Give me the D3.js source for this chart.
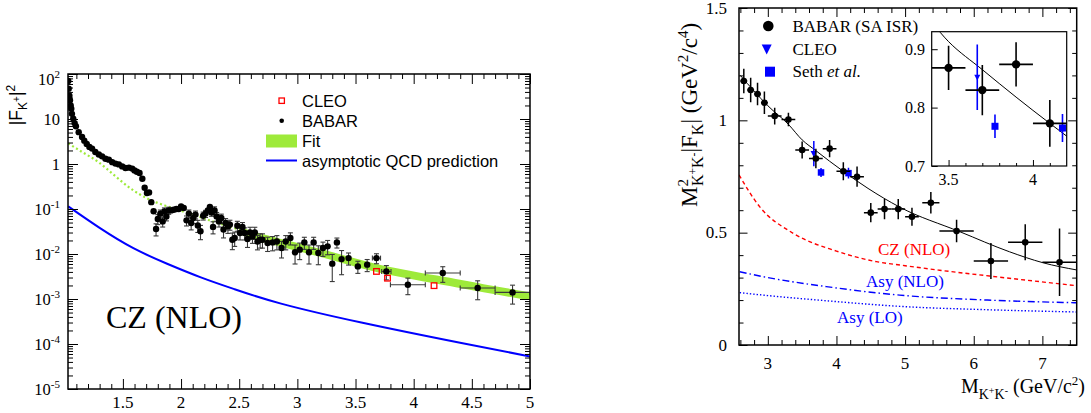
<!DOCTYPE html>
<html>
<head>
<meta charset="utf-8">
<script src="https://cdn.jsdelivr.net/npm/d3@7/dist/d3.min.js"></script>
<style>
html,body{margin:0;padding:0;background:#fff;}
svg{display:block;}
</style>
</head>
<body>
<svg id="chart" width="1091" height="413" xmlns="http://www.w3.org/2000/svg"></svg>
<script>
// ================= DATA : left panel (|F_K+|^2 vs M) =================
const babarLeftM = [
  1.030,1.034,1.040,1.045,1.051,1.056,1.062,1.073,1.085,1.096,
  1.120,1.149,1.168,1.189,1.212,1.235,1.263,1.293,1.321,1.350,
  1.379,1.408,1.436,1.465,1.494,1.522,1.552,1.580,1.600,1.620,
  1.643,1.667,1.687,1.707,1.725,1.744,1.764,1.785,1.800,1.822,
  1.842,1.857,1.874,1.894,1.915,1.937,1.960,1.980,2.000,2.023,
  2.047,2.067,2.087,2.105,2.124,2.144,2.167,2.190,2.210,2.230,
  2.248,2.262,2.275,2.288,2.306,2.326,2.346,2.365,2.383,2.403,
  2.420,2.441,2.461,2.484,2.507,2.528,2.547,2.571,2.593,2.614,
  2.634,2.657,2.680,2.700,2.744,2.787,2.824,2.864,2.900,2.940,
  2.980,3.020,3.060,3.100,3.140,3.180,3.220,3.260,3.300,3.340,
  3.380,3.440,3.520,3.600,3.680,3.765,3.950,4.250,4.550,4.850];
const babarLeftF2 = [
  70,47,33,26,20,17,13,10.2,8.1,6.9,
  5.1,4.0,3.3,2.8,2.4,2.2,1.85,1.63,1.48,1.31,
  1.25,1.10,1.02,0.98,0.885,0.815,0.83,0.79,0.72,0.675,
  0.63,0.47,0.297,0.227,0.234,0.142,0.089,0.036,0.060,0.079,
  0.053,0.088,0.068,0.093,0.093,0.096,0.100,0.100,0.114,0.105,
  0.056,0.079,0.049,0.063,0.075,0.043,0.032,0.071,0.079,0.093,
  0.111,0.084,0.040,0.093,0.0685,0.053,0.063,0.035,0.049,0.041,
  0.045,0.0208,0.0227,0.0426,0.0293,0.040,0.0293,0.0215,0.0302,0.0246,
  0.0302,0.019,0.0208,0.0208,0.0175,0.0181,0.019,0.0136,0.019,0.0227,
  0.0109,0.0125,0.0181,0.0109,0.0181,0.0105,0.0136,0.0148,0.0061,0.0181,
  0.0077,0.0081,0.0053,0.0058,0.0081,0.0041,0.00208,0.00378,0.00175,0.0014];
const babarLeftRelErr = [
  0.03,0.03,0.03,0.03,0.03,0.03,0.03,0.03,0.03,0.03,
  0.03,0.03,0.03,0.03,0.03,0.03,0.03,0.03,0.03,0.03,
  0.03,0.03,0.03,0.03,0.03,0.03,0.03,0.03,0.03,0.03,
  0.03,0.04,0.05,0.06,0.07,0.10,0.15,0.30,0.25,0.20,
  0.25,0.20,0.20,0.18,0.15,0.15,0.15,0.15,0.15,0.15,
  0.25,0.20,0.30,0.25,0.20,0.30,0.35,0.20,0.18,0.15,
  0.15,0.18,0.30,0.20,0.22,0.25,0.22,0.35,0.25,0.30,
  0.25,0.40,0.35,0.25,0.30,0.25,0.30,0.35,0.30,0.30,
  0.30,0.35,0.35,0.35,0.35,0.35,0.35,0.40,0.35,0.30,
  0.45,0.40,0.30,0.45,0.30,0.45,0.35,0.35,0.60,0.25,
  0.55,0.30,0.30,0.30,0.25,0.35,0.40,0.38,0.45,0.45];
const wideBinM = [3.68, 3.765, 3.95, 4.25, 4.55, 4.85];
const wideBinHalfWidth = [0.035, 0.04, 0.15, 0.15, 0.15, 0.15];
const cleoLeftM = [3.68, 3.775, 4.175];
const cleoLeftF2 = [0.0041, 0.0029, 0.00198];
const fitM  = [1.03,1.16,1.29,1.43,1.57,1.72,1.86,2.0,2.17,2.3,2.5,2.69,3.2,3.68,4.2,4.6,5.0];
const fitF2 = [2.88,1.78,1.10,0.55,0.282,0.166,0.120,0.0912,0.0661,0.0501,0.0347,0.0229,0.0105,0.0049,0.00269,0.00174,0.00115];
const qcdM  = [1.03,1.30,1.59,1.88,2.17,2.46,2.86,3.55,4.41,5.0];
const qcdF2 = [0.114,0.038,0.01345,0.00608,0.00303,0.00165,0.00079,0.000300,0.000105,0.000053];
const leftXTicks = [1.5,2,2.5,3,3.5,4,4.5,5];
const leftYExponents = [-5,-4,-3,-2,-1,0,1,2];
const leftLegend = ["CLEO","BABAR","Fit","asymptotic QCD prediction"];

// ================= DATA : right panel (M^2 |F_K| vs M) =================
const babarRightM   = [2.65,2.75,2.85,2.95,3.1,3.3,3.5,3.7,3.9,4.1,4.3,4.5,4.7,4.9,5.1,5.375,5.75,6.25,6.75,7.25];
const babarRightV   = [1.175,1.135,1.117,1.078,1.019,1.004,0.868,0.83,0.874,0.773,0.749,0.589,0.605,0.605,0.571,0.633,0.507,0.374,0.457,0.368];
const babarRightErr = [0.055,0.055,0.05,0.05,0.037,0.03,0.038,0.043,0.038,0.04,0.045,0.043,0.045,0.045,0.04,0.048,0.05,0.08,0.08,0.15];
const babarRightXErr= [0.05,0.05,0.05,0.05,0.1,0.1,0.1,0.1,0.1,0.1,0.1,0.1,0.1,0.1,0.1,0.125,0.25,0.25,0.25,0.25];
const cleoRightM = [3.67], cleoRightV = [0.852], cleoRightErr = [0.056];
const sethM = [3.775, 4.175], sethV = [0.768, 0.765], sethErr = [0.02, 0.024];
const fitRightM = [2.6,2.8,3.0,3.3,3.5,3.7,3.9,4.1,4.46,4.92,5.8,6.52,7.01,7.5];
const fitRightV = [1.20,1.13,1.065,0.982,0.913,0.865,0.818,0.773,0.697,0.614,0.504,0.415,0.366,0.334];
const czM = [2.58,2.88,3.37,4.0,4.58,5.0,5.5,6.23,7.5];
const czV = [0.757,0.616,0.497,0.418,0.371,0.353,0.333,0.307,0.264];
const asyNloM = [2.59,3.0,3.85,4.92,6.2,7.5];
const asyNloV = [0.326,0.300,0.260,0.222,0.200,0.188];
const asyLoM = [2.59,3.0,3.85,4.92,6.2,7.5];
const asyLoV = [0.233,0.220,0.197,0.172,0.157,0.147];
const rightXTicks = [3,4,5,6,7];
const rightYTicks = [0,0.5,1,1.5];
const insetXTicks = [3.5,4];
const insetYTicks = [0.7,0.8,0.9];

// ================= DRAWING =================
const SERIF = "'Liberation Serif','Times New Roman',Times,serif";
const SANS = "'Liberation Sans',Arial,Helvetica,sans-serif";
const GREEN = "#9eea3a";
const BLUE = "#0000ff";
const svg = d3.select("#chart");
const defs = svg.append("defs");

function clip(id, x, y, w, h){
  defs.append("clipPath").attr("id", id).append("rect").attr("x",x).attr("y",y).attr("width",w).attr("height",h);
}
function tickSet(g, axisFn, scale, values, size, transform){
  g.append("g").attr("transform", transform)
    .call(axisFn(scale).tickValues(values).tickSize(-size).tickFormat(""))
    .call(s => s.select(".domain").remove())
    .selectAll("line").attr("stroke","#000").attr("stroke-width",1);
}
const pairs = (a,b) => a.map((v,i)=>[v,b[i]]);

// ---------- LEFT PANEL ----------
const xL = d3.scaleLinear().domain([1.028, 5.0]).range([68, 530]);
const yL = d3.scaleLog().domain([1e-5, 1e2]).range([389, 74]);
clip("clipL", 68, 74, 462, 315);
const gL = svg.append("g");
const plotL = gL.append("g").attr("clip-path","url(#clipL)");

// fit: dotted extrapolation + band
const fitPts = pairs(fitM, fitF2);
plotL.append("path").datum(fitPts)
  .attr("d", d3.line().x(d=>xL(d[0])).y(d=>yL(d[1])).curve(d3.curveNatural))
  .attr("fill","none").attr("stroke",GREEN).attr("stroke-width",2.2).attr("stroke-dasharray","2,2.6");
const bandF = 1.23;
plotL.append("path").datum(fitPts.filter(d=>d[0]>=2.5))
  .attr("d", d3.area().x(d=>xL(d[0])).y0(d=>yL(d[1]/bandF)).y1(d=>yL(d[1]*bandF)).curve(d3.curveNatural))
  .attr("fill",GREEN).attr("stroke","none");

// asymptotic QCD
plotL.append("path").datum(pairs(qcdM, qcdF2))
  .attr("d", d3.line().x(d=>xL(d[0])).y(d=>yL(d[1])).curve(d3.curveNatural))
  .attr("fill","none").attr("stroke",BLUE).attr("stroke-width",2);

// BABAR points with error bars
const ptsL = babarLeftM.map((m,i)=>{
  const j = wideBinM.indexOf(m);
  return {x:m, y:babarLeftF2[i], e:babarLeftRelErr[i]*babarLeftF2[i], xe: j>=0 ? wideBinHalfWidth[j] : 0};
});
const ebL = plotL.append("g").attr("stroke","#3a3a3a").attr("stroke-width",1.1);
ptsL.forEach(p=>{
  const cx = xL(p.x), cy = yL(p.y);
  const yt = yL(p.y + p.e), yb = yL(Math.max(p.y - p.e, 1e-6));
  if (yb - yt > 6){
    ebL.append("line").attr("x1",cx).attr("x2",cx).attr("y1",yt).attr("y2",yb);
    ebL.append("line").attr("x1",cx-2.5).attr("x2",cx+2.5).attr("y1",yt).attr("y2",yt);
    ebL.append("line").attr("x1",cx-2.5).attr("x2",cx+2.5).attr("y1",yb).attr("y2",yb);
  }
  if (p.xe > 0){
    const xl = xL(p.x - p.xe), xr = xL(p.x + p.xe);
    ebL.append("line").attr("x1",xl).attr("x2",xr).attr("y1",cy).attr("y2",cy);
    ebL.append("line").attr("x1",xl).attr("x2",xl).attr("y1",cy-2.5).attr("y2",cy+2.5);
    ebL.append("line").attr("x1",xr).attr("x2",xr).attr("y1",cy-2.5).attr("y2",cy+2.5);
  }
});
plotL.append("g").selectAll("circle").data(ptsL).join("circle")
  .attr("cx",d=>xL(d.x)).attr("cy",d=>yL(d.y)).attr("r",3.2).attr("fill","#000");

// CLEO squares
plotL.append("g").selectAll("rect").data(pairs(cleoLeftM, cleoLeftF2)).join("rect")
  .attr("x",d=>xL(d[0])-2.8).attr("y",d=>yL(d[1])-2.8).attr("width",5.6).attr("height",5.6)
  .attr("fill","none").attr("stroke","#ff0000").attr("stroke-width",1.3);

// frame + ticks
const leftMinorX = d3.range(11,50).filter(i=>i%5!==0).map(i=>i/10);
const leftMinorY = [];
leftYExponents.slice(0,-1).forEach(e=>{ for(let k=2;k<=9;k++) leftMinorY.push(k*Math.pow(10,e)); });
const leftMajorY = leftYExponents.map(e=>Math.pow(10,e));
tickSet(gL, d3.axisBottom, xL, leftXTicks, 10, "translate(0,389)");
tickSet(gL, d3.axisBottom, xL, leftMinorX, 5, "translate(0,389)");
tickSet(gL, d3.axisTop, xL, leftXTicks, 10, "translate(0,74)");
tickSet(gL, d3.axisTop, xL, leftMinorX, 5, "translate(0,74)");
tickSet(gL, d3.axisLeft, yL, leftMajorY, 10, "translate(68,0)");
tickSet(gL, d3.axisLeft, yL, leftMinorY, 5, "translate(68,0)");
tickSet(gL, d3.axisRight, yL, leftMajorY, 10, "translate(530,0)");
tickSet(gL, d3.axisRight, yL, leftMinorY, 5, "translate(530,0)");
gL.append("rect").attr("x",68).attr("y",74).attr("width",462).attr("height",315)
  .attr("fill","none").attr("stroke","#000").attr("stroke-width",1.5);

// tick labels
leftXTicks.forEach(v=>{
  gL.append("text").attr("x",xL(v)).attr("y",407.5).attr("text-anchor","middle")
    .attr("font-family",SERIF).attr("font-size",17).text(String(v));
});
leftYExponents.forEach(e=>{
  const t = gL.append("text").attr("x",60).attr("y",Math.max(yL(Math.pow(10,e))+5.5, 85))
    .attr("text-anchor","end").attr("font-family",SERIF).attr("font-size",16.5);
  if (e===0) t.text("1");
  else if (e===1) t.text("10");
  else { t.append("tspan").text("10"); t.append("tspan").attr("font-size",11).attr("dy",-7).text(String(e)); }
});
// y title
const ytL = gL.append("text").attr("transform","translate(22,105) rotate(-90)")
  .attr("text-anchor","middle").attr("font-family",SANS).attr("font-size",17.5);
ytL.append("tspan").text("|F");
ytL.append("tspan").attr("font-size",12).attr("dy",5).text("K");
ytL.append("tspan").attr("font-size",10).attr("dy",-7).text("+");
ytL.append("tspan").attr("font-size",17.5).attr("dy",2).text("|");
ytL.append("tspan").attr("font-size",12).attr("dy",-7).text("2");

// CZ (NLO)
gL.append("text").attr("x",106).attr("y",328).attr("font-family",SERIF).attr("font-size",32).text("CZ (NLO)");

// legend
const lg = gL.append("g").attr("font-family",SANS).attr("font-size",16.5);
lg.append("rect").attr("x",279).attr("y",98).attr("width",5.4).attr("height",5.4)
  .attr("fill","none").attr("stroke","#ff0000").attr("stroke-width",1.3);
lg.append("circle").attr("cx",281.7).attr("cy",120.8).attr("r",2.3).attr("fill","#000");
lg.append("rect").attr("x",266).attr("y",134.5).attr("width",31).attr("height",13).attr("fill",GREEN);
lg.append("line").attr("x1",266).attr("x2",297).attr("y1",160.5).attr("y2",160.5).attr("stroke",BLUE).attr("stroke-width",2);
[106.5,127,147.3,167].forEach((by,i)=>{
  lg.append("text").attr("x",302).attr("y",by).text(leftLegend[i]);
});

// ---------- RIGHT PANEL ----------
const xR = d3.scaleLinear().domain([2.58, 7.5]).range([739, 1076.7]);
const yR = d3.scaleLinear().domain([0, 1.5]).range([345, 8]);
clip("clipR", 739, 8, 337.7, 337);
const gR = svg.append("g");
const plotR = gR.append("g").attr("clip-path","url(#clipR)");
const lineR = d3.line().x(d=>xR(d[0])).y(d=>yR(d[1])).curve(d3.curveMonotoneX);

plotR.append("path").datum(pairs(czM,czV)).attr("d",lineR).attr("fill","none")
  .attr("stroke","#ff0000").attr("stroke-width",1.4).attr("stroke-dasharray","4,3");
plotR.append("path").datum(pairs(asyNloM,asyNloV)).attr("d",lineR).attr("fill","none")
  .attr("stroke",BLUE).attr("stroke-width",1.4).attr("stroke-dasharray","7,3,1.5,3");
plotR.append("path").datum(pairs(asyLoM,asyLoV)).attr("d",lineR).attr("fill","none")
  .attr("stroke",BLUE).attr("stroke-width",1.4).attr("stroke-dasharray","1.4,2");
plotR.append("path").datum(pairs(fitRightM,fitRightV)).attr("d",lineR).attr("fill","none")
  .attr("stroke","#000").attr("stroke-width",1);

function drawBabarRight(g, xs, ys, r, sw){
  const eb = g.append("g").attr("stroke","#000").attr("stroke-width",sw);
  babarRightM.forEach((m,i)=>{
    const v = babarRightV[i];
    eb.append("line").attr("x1",xs(m)).attr("x2",xs(m)).attr("y1",ys(v+babarRightErr[i])).attr("y2",ys(v-babarRightErr[i]));
    eb.append("line").attr("x1",xs(m-babarRightXErr[i])).attr("x2",xs(m+babarRightXErr[i])).attr("y1",ys(v)).attr("y2",ys(v));
  });
  g.append("g").selectAll("circle").data(pairs(babarRightM,babarRightV)).join("circle")
    .attr("cx",d=>xs(d[0])).attr("cy",d=>ys(d[1])).attr("r",r).attr("fill","#000");
}
function drawBlue(g, xs, ys, triSize, sqSize, sw){
  const eb = g.append("g").attr("stroke",BLUE).attr("stroke-width",sw);
  cleoRightM.forEach((m,i)=>{
    eb.append("line").attr("x1",xs(m)).attr("x2",xs(m)).attr("y1",ys(cleoRightV[i]+cleoRightErr[i])).attr("y2",ys(cleoRightV[i]-cleoRightErr[i]));
  });
  sethM.forEach((m,i)=>{
    eb.append("line").attr("x1",xs(m)).attr("x2",xs(m)).attr("y1",ys(sethV[i]+sethErr[i])).attr("y2",ys(sethV[i]-sethErr[i]));
  });
  g.append("g").selectAll("path").data(pairs(cleoRightM,cleoRightV)).join("path")
    .attr("d",d=>{const x=xs(d[0]), y=ys(d[1]), s=triSize; return `M${x-s/2},${y-s*0.4}L${x+s/2},${y-s*0.4}L${x},${y+s*0.55}Z`;})
    .attr("fill",BLUE);
  g.append("g").selectAll("rect").data(pairs(sethM,sethV)).join("rect")
    .attr("x",d=>xs(d[0])-sqSize/2).attr("y",d=>ys(d[1])-sqSize/2).attr("width",sqSize).attr("height",sqSize)
    .attr("fill",BLUE);
}
drawBlue(plotR, xR, yR, 6.5, 6.5, 1.5);
drawBabarRight(plotR, xR, yR, 3.3, 1.5);

// curve labels
gR.append("text").attr("x",878).attr("y",255).attr("fill","#ff0000").attr("font-family",SERIF).attr("font-size",17).text("CZ (NLO)");
gR.append("text").attr("x",866).attr("y",287).attr("fill",BLUE).attr("font-family",SERIF).attr("font-size",17).text("Asy (NLO)");
gR.append("text").attr("x",837).attr("y",323).attr("fill",BLUE).attr("font-family",SERIF).attr("font-size",17).text("Asy (LO)");

// frame + ticks
const rightMinorX = d3.range(13,38).filter(i=>i%5!==0).map(i=>i/5);
const rightMinorY = d3.range(0,16).filter(i=>i%5!==0).map(i=>i/10);
tickSet(gR, d3.axisBottom, xR, rightXTicks, 9, "translate(0,345)");
tickSet(gR, d3.axisBottom, xR, rightMinorX, 5, "translate(0,345)");
tickSet(gR, d3.axisTop, xR, rightXTicks, 9, "translate(0,8)");
tickSet(gR, d3.axisTop, xR, rightMinorX, 5, "translate(0,8)");
tickSet(gR, d3.axisLeft, yR, rightYTicks, 8.5, "translate(739,0)");
tickSet(gR, d3.axisLeft, yR, rightMinorY, 4.5, "translate(739,0)");
tickSet(gR, d3.axisRight, yR, rightYTicks, 8.5, "translate(1076.7,0)");
tickSet(gR, d3.axisRight, yR, rightMinorY, 4.5, "translate(1076.7,0)");
gR.append("rect").attr("x",739).attr("y",8).attr("width",337.7).attr("height",337)
  .attr("fill","none").attr("stroke","#000").attr("stroke-width",1.5);

rightXTicks.forEach(v=>{
  gR.append("text").attr("x",xR(v)).attr("y",368.5).attr("text-anchor","middle")
    .attr("font-family",SERIF).attr("font-size",17).text(String(v));
});
rightYTicks.forEach(v=>{
  gR.append("text").attr("x",727).attr("y",yR(v)+5.5).attr("text-anchor","end")
    .attr("font-family",SERIF).attr("font-size",17).text(String(v));
});

// x title
const xtR = gR.append("text").attr("x",1085).attr("y",393).attr("text-anchor","end")
  .attr("font-family",SERIF).attr("font-size",20);
xtR.append("tspan").text("M");
xtR.append("tspan").attr("font-size",14).attr("dy",6).text("K");
xtR.append("tspan").attr("font-size",10).attr("dy",-5).text("+");
xtR.append("tspan").attr("font-size",14).attr("dy",5).text("K");
xtR.append("tspan").attr("font-size",10).attr("dy",-5).text("-");
xtR.append("tspan").attr("font-size",20).attr("dy",-1).text(" (GeV/c");
xtR.append("tspan").attr("font-size",13).attr("dy",-8).text("2");
xtR.append("tspan").attr("font-size",20).attr("dy",8).text(")");

// y title
const ytR = gR.append("text").attr("transform","translate(697,207) rotate(-90)")
  .attr("text-anchor","start").attr("font-family",SERIF).attr("font-size",23);
ytR.append("tspan").text("M");
ytR.append("tspan").attr("font-size",15).attr("dy",-9).text("2");
ytR.append("tspan").attr("font-size",16).attr("dx",-7).attr("dy",15).text("K");
ytR.append("tspan").attr("font-size",11.5).attr("dy",-6).text("+");
ytR.append("tspan").attr("font-size",16).attr("dy",6).text("K");
ytR.append("tspan").attr("font-size",11.5).attr("dy",-6).text("-");
ytR.append("tspan").attr("font-size",23).attr("dy",0).text("|F");
ytR.append("tspan").attr("font-size",16).attr("dy",6).text("K");
ytR.append("tspan").attr("font-size",23).attr("dy",-6).text("| (GeV");
ytR.append("tspan").attr("font-size",15).attr("dy",-9).text("2");
ytR.append("tspan").attr("font-size",23).attr("dy",9).text("/c");
ytR.append("tspan").attr("font-size",15).attr("dy",-9).text("4");
ytR.append("tspan").attr("font-size",23).attr("dy",9).text(")");

// legend
const lgR = gR.append("g").attr("font-family",SERIF).attr("font-size",17);
lgR.append("circle").attr("cx",768.3).attr("cy",26).attr("r",5.3).attr("fill","#000");
lgR.append("path").attr("d","M761.7,44.5L771.7,44.5L766.7,54.5Z").attr("fill",BLUE);
lgR.append("rect").attr("x",765).attr("y",66.7).attr("width",10).attr("height",10).attr("fill",BLUE);
lgR.append("text").attr("x",792.5).attr("y",32).text("BABAR (SA ISR)");
lgR.append("text").attr("x",792.5).attr("y",54.5).text("CLEO");
const sethT = lgR.append("text").attr("x",792.5).attr("y",77);
sethT.append("tspan").text("Seth ");
sethT.append("tspan").attr("font-style","italic").text("et al.");

// ---------- INSET ----------
const xI = d3.scaleLinear().domain([3.4, 4.2]).range([931.7, 1066.7]);
const yI = d3.scaleLinear().domain([0.7, 0.93]).range([166, 31.7]);
clip("clipI", 931.7, 31.7, 135, 134.3);
const gI = svg.append("g");
gI.append("rect").attr("x",931.7).attr("y",31.7).attr("width",135).attr("height",134.3).attr("fill","#fff");
const plotI = gI.append("g").attr("clip-path","url(#clipI)");
plotI.append("path").datum(pairs(fitRightM,fitRightV))
  .attr("d", d3.line().x(d=>xI(d[0])).y(d=>yI(d[1])).curve(d3.curveMonotoneX))
  .attr("fill","none").attr("stroke","#000").attr("stroke-width",1);
drawBlue(plotI, xI, yI, 6, 7, 1.6);
drawBabarRight(plotI, xI, yI, 4.2, 1.6);
tickSet(gI, d3.axisBottom, xI, insetXTicks, 6, "translate(0,166)");
tickSet(gI, d3.axisBottom, xI, d3.range(35,42).filter(i=>i%5!==0).map(i=>i/10), 3, "translate(0,166)");
tickSet(gI, d3.axisLeft, yI, insetYTicks, 6, "translate(931.7,0)");
gI.append("rect").attr("x",931.7).attr("y",31.7).attr("width",135).attr("height",134.3)
  .attr("fill","none").attr("stroke","#000").attr("stroke-width",1.2);
insetXTicks.forEach(v=>{
  gI.append("text").attr("x",xI(v)).attr("y",185).attr("text-anchor","middle")
    .attr("font-family",SERIF).attr("font-size",16).text(String(v));
});
insetYTicks.forEach(v=>{
  gI.append("text").attr("x",925).attr("y",yI(v)+5.5).attr("text-anchor","end")
    .attr("font-family",SERIF).attr("font-size",16).text(String(v));
});
</script>
</body>
</html>
